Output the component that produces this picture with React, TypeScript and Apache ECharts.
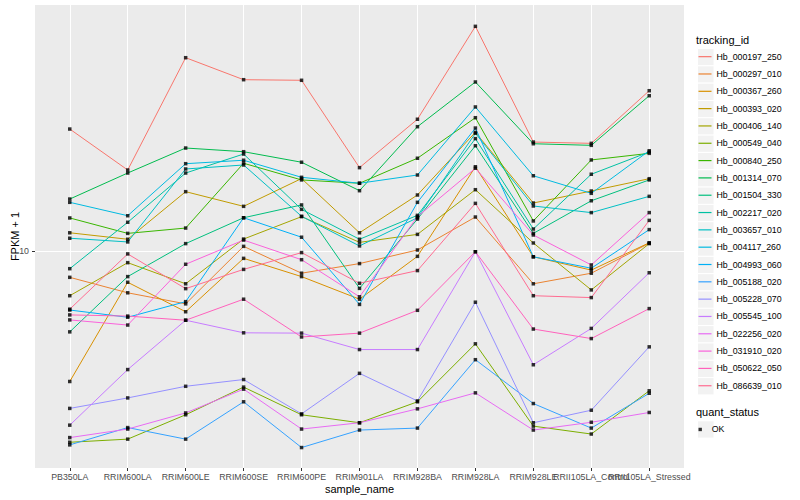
import { useEffect, useRef } from 'react';
import * as echarts from 'echarts';

// x categories
const sampleNames = [
  'PB350LA', 'RRIM600LA', 'RRIM600LE', 'RRIM600SE', 'RRIM600PE', 'RRIM901LA',
  'RRIM928BA', 'RRIM928LA', 'RRIM928LE', 'RRII105LA_Control', 'RRII105LA_Stressed',
];

const trackingIds = [
  'Hb_000197_250', 'Hb_000297_010', 'Hb_000367_260', 'Hb_000393_020', 'Hb_000406_140',
  'Hb_000549_040', 'Hb_000840_250', 'Hb_001314_070', 'Hb_001504_330', 'Hb_002217_020',
  'Hb_003657_010', 'Hb_004117_260', 'Hb_004993_060', 'Hb_005188_020', 'Hb_005228_070',
  'Hb_005545_100', 'Hb_022256_020', 'Hb_031910_020', 'Hb_050622_050', 'Hb_086639_010',
];

// FPKM + 1 per sample
const hb000197_250 = [17.56, 14.54, 24.39, 22.04, 21.98, 14.70, 18.37, 28.18, 16.54, 16.44, 20.95];
const hb000297_010 = [8.87, 8.26, 7.85, 10.23, 9.04, 9.45, 10.06, 11.71, 8.61, 9.04, 10.38];
const hb000367_260 = [5.49, 8.67, 7.57, 9.68, 8.90, 8.02, 9.77, 14.76, 9.75, 9.17, 10.40];
const hb000393_020 = [10.89, 10.57, 13.16, 12.30, 13.98, 10.89, 12.96, 17.30, 12.49, 13.20, 13.97];
const hb000406_140 = [8.15, 9.49, 8.61, 10.58, 11.73, 10.42, 10.81, 13.28, 10.39, 8.37, 10.36];
const hb000549_040 = [4.15, 4.21, 4.71, 5.35, 4.71, 4.54, 5.00, 6.53, 4.47, 4.31, 5.26];
const hb000840_250 = [11.66, 10.86, 11.13, 15.00, 13.89, 13.68, 15.35, 18.50, 11.50, 15.23, 15.70];
const hb001314_070 = [12.72, 14.34, 16.09, 15.82, 15.07, 13.22, 17.75, 21.81, 16.41, 16.29, 20.47];
const hb001504_330 = [6.90, 8.90, 10.36, 11.67, 12.38, 8.43, 11.60, 16.26, 10.86, 12.62, 13.89];
const hb002217_020 = [9.23, 11.43, 14.34, 15.65, 12.13, 10.57, 11.80, 16.80, 11.08, 14.26, 15.80];
const hb003657_010 = [10.62, 10.44, 14.61, 14.88, 11.75, 10.25, 11.67, 17.22, 12.32, 11.95, 12.88];
const hb004117_260 = [12.53, 11.78, 14.97, 15.21, 14.06, 13.68, 14.21, 19.44, 14.16, 13.06, 15.89];
const hb004993_060 = [7.63, 7.38, 7.93, 11.67, 10.67, 7.83, 12.53, 17.64, 9.75, 9.25, 11.05];
const hb005188_020 = [4.10, 4.44, 4.21, 5.00, 4.05, 4.39, 4.43, 6.07, 4.96, 4.43, 5.20];
const hb005228_070 = [4.85, 5.09, 5.37, 5.54, 4.73, 5.70, 5.02, 7.91, 4.54, 4.81, 6.44];
const hb005545_100 = [4.49, 5.80, 7.28, 6.87, 6.86, 6.36, 6.36, 9.98, 5.93, 7.01, 9.06];
const hb022256_020 = [4.24, 4.41, 4.75, 5.30, 4.41, 4.54, 4.84, 5.21, 4.39, 4.55, 4.76];
const hb031910_020 = [7.29, 7.12, 9.42, 10.53, 9.62, 8.11, 11.73, 14.66, 10.78, 9.39, 11.95];
const hb050622_050 = [7.46, 7.42, 7.28, 8.02, 6.74, 6.86, 7.62, 9.98, 6.99, 6.69, 7.68];
const hb086639_010 = [7.66, 9.88, 8.42, 9.20, 9.94, 8.63, 9.15, 12.47, 8.15, 8.08, 11.53];

const seriesValues = [
  hb000197_250, hb000297_010, hb000367_260, hb000393_020, hb000406_140,
  hb000549_040, hb000840_250, hb001314_070, hb001504_330, hb002217_020,
  hb003657_010, hb004117_260, hb004993_060, hb005188_020, hb005228_070,
  hb005545_100, hb022256_020, hb031910_020, hb050622_050, hb086639_010,
];

// y scale (log10) limits and the only labelled break
const yLimits = [3.686, 31.09];
const yTickLabels = [10];
const quantStatus = ['OK'];

const palette = [
  '#F8766D', '#EA8331', '#D89000', '#C09B00', '#A3A500', '#7CAE00', '#39B600',
  '#00BB4E', '#00BF7D', '#00C1A3', '#00BFC4', '#00BAE0', '#00B0F6', '#35A2FF',
  '#9590FF', '#C77CFF', '#E76BF3', '#FA62DB', '#FF62BC', '#FF6C91',
];

const FONT = '"Liberation Sans", Arial, Helvetica, sans-serif';

export default function App() {
  const ref = useRef<HTMLDivElement>(null);

  useEffect(() => {
    if (!ref.current) return;
    const chart = echarts.init(ref.current, null, { renderer: 'svg' });

    const lineSeries = trackingIds.map((id, s) => ({
      name: id,
      type: 'line',
      xAxisIndex: 0,
      yAxisIndex: 0,
      color: palette[s],
      data: seriesValues[s].map((v, i) => [i, v]),
      showSymbol: false,
      symbol: 'none',
      lineStyle: { width: 1, color: palette[s] },
      z: 2,
      silent: true,
      emphasis: { disabled: true },
    }));

    const points: number[][] = [];
    seriesValues.forEach((vals) => vals.forEach((v, i) => points.push([i, v])));

    const rowH = 17.32;
    const legendTop = 48;
    const okTop = 420.8;

    const keyRects = trackingIds.map((_, i) => ({
      type: 'rect',
      left: 697,
      top: legendTop + i * rowH,
      z: 0,
      shape: { width: 16.5, height: rowH },
      style: { fill: '#F2F2F2', stroke: '#FFFFFF', lineWidth: 1 },
      silent: true,
    }));

    const xIdx = sampleNames.map((_, i) => i);
    const labelStyle = {
      formatter: (v: number) => sampleNames[Math.round(v)] ?? '',
      fontFamily: FONT, fontSize: 8.8, color: '#4D4D4D', margin: 4,
      hideOverlap: false,
      showMinLabel: true,
      showMaxLabel: true,
    };
    // labels of the last two samples overlap (as in the reference); give each its own axis
    // so that ECharts' min/max-label overlap pruning does not drop one of them.
    const mainLabelIdx = xIdx.slice(0, xIdx.length - 2);
    const extraAxes = xIdx.slice(xIdx.length - 2).map((i) => ({
      type: 'value',
      gridIndex: 0,
      position: 'bottom',
      offset: 0,
      min: -0.6,
      max: 10.6,
      axisLine: { show: false, onZero: false },
      axisTick: { show: false },
      splitLine: { show: false },
      axisLabel: { ...labelStyle, customValues: [i] },
    }));

    // guide axis in log10 units: same extent as the log axis, carries tick, label and gridline at 10
    const logTicks = yTickLabels.map((t) => Math.log10(t));

    const option = {
      animation: false,
      textStyle: { fontFamily: FONT },
      grid: {
        left: 35, right: 116, top: 5, bottom: 32,
        show: true, backgroundColor: '#EBEBEB', borderWidth: 0,
      },
      xAxis: [
        {
          type: 'value',
          gridIndex: 0,
          position: 'bottom',
          min: -0.6,
          max: 10.6,
          name: 'sample_name',
          nameLocation: 'middle',
          nameGap: 15,
          nameMoveOverlap: false,
          nameTextStyle: { fontFamily: FONT, fontSize: 11, color: '#000' },
          axisLine: { show: false, onZero: false },
          axisTick: {
            show: true, length: 3,
            customValues: xIdx,
            lineStyle: { color: '#333', width: 1 },
          },
          axisLabel: { ...labelStyle, customValues: mainLabelIdx },
          splitLine: { show: true, lineStyle: { color: '#FFFFFF', width: 1 } },
        },
        ...extraAxes,
      ],
      yAxis: [
        {
          type: 'log',
          logBase: 10,
          gridIndex: 0,
          min: yLimits[0],
          max: yLimits[1],
          position: 'left',
          name: 'FPKM + 1',
          nameLocation: 'middle',
          nameGap: 15,
          nameMoveOverlap: false,
          nameTextStyle: { fontFamily: FONT, fontSize: 11, color: '#000' },
          axisLine: { show: false, onZero: false },
          axisTick: { show: false },
          axisLabel: { show: false },
          splitLine: { show: false },
          minorSplitLine: { show: false },
        },
        {
          type: 'value',
          gridIndex: 0,
          min: Math.log10(yLimits[0]),
          max: Math.log10(yLimits[1]),
          position: 'left',
          offset: 0,
          axisLine: { show: false, onZero: false },
          axisTick: {
            show: true, length: 3, customValues: logTicks,
            lineStyle: { color: '#333', width: 1 },
          },
          axisLabel: {
            customValues: logTicks,
            fontFamily: FONT, fontSize: 8.8, color: '#4D4D4D', margin: 6,
            formatter: (v: number) => String(Math.round(Math.pow(10, v))),
            showMinLabel: true,
            showMaxLabel: true,
          },
          splitLine: { show: true, lineStyle: { color: '#FFFFFF', width: 1 } },
        },
      ],
      legend: [
        {
          data: trackingIds.map((id) => ({ name: id, icon: 'rect' })),
          orient: 'vertical',
          left: 698.5,
          top: legendTop,
          padding: 0,
          itemGap: 0,
          itemWidth: 13,
          itemHeight: 1.2,
          selectedMode: false,
          textStyle: { fontFamily: FONT, fontSize: 8.8, color: '#000', lineHeight: rowH },
        },
        {
          data: quantStatus.map((q) => ({ name: q, icon: 'path://M0,0h1v1h-1z' })),
          orient: 'vertical',
          left: 698.5,
          top: okTop,
          padding: 0,
          itemGap: 0,
          itemWidth: 13,
          itemHeight: 3.4,
          selectedMode: false,
          textStyle: { fontFamily: FONT, fontSize: 8.8, color: '#000', lineHeight: rowH },
        },
      ],
      graphic: [
        ...keyRects,
        {
          type: 'rect', left: 697, top: okTop - 0.5, z: 0, silent: true,
          shape: { width: 16.5, height: rowH },
          style: { fill: '#F2F2F2', stroke: '#FFFFFF', lineWidth: 1 },
        },
        {
          type: 'text', left: 696, top: 34.5, z: 1, silent: true,
          style: { text: 'tracking_id', fontFamily: FONT, fontSize: 11, fill: '#000' },
        },
        {
          type: 'text', left: 696, top: 406.3, z: 1, silent: true,
          style: { text: 'quant_status', fontFamily: FONT, fontSize: 11, fill: '#000' },
        },
      ],
      series: [
        ...lineSeries,
        {
          name: quantStatus[0],
          type: 'scatter',
          xAxisIndex: 0,
          yAxisIndex: 0,
          data: points,
          symbol: 'rect',
          symbolSize: 3.5,
          itemStyle: { color: '#000' },
          z: 3,
          silent: true,
          emphasis: { disabled: true },
        },
      ],
    };

    chart.setOption(option as any);
    return () => chart.dispose();
  }, []);

  return (
    <div
      ref={ref}
      style={{ position: 'absolute', left: 0, top: 0, width: 800, height: 500, background: '#FFFFFF' }}
    />
  );
}
